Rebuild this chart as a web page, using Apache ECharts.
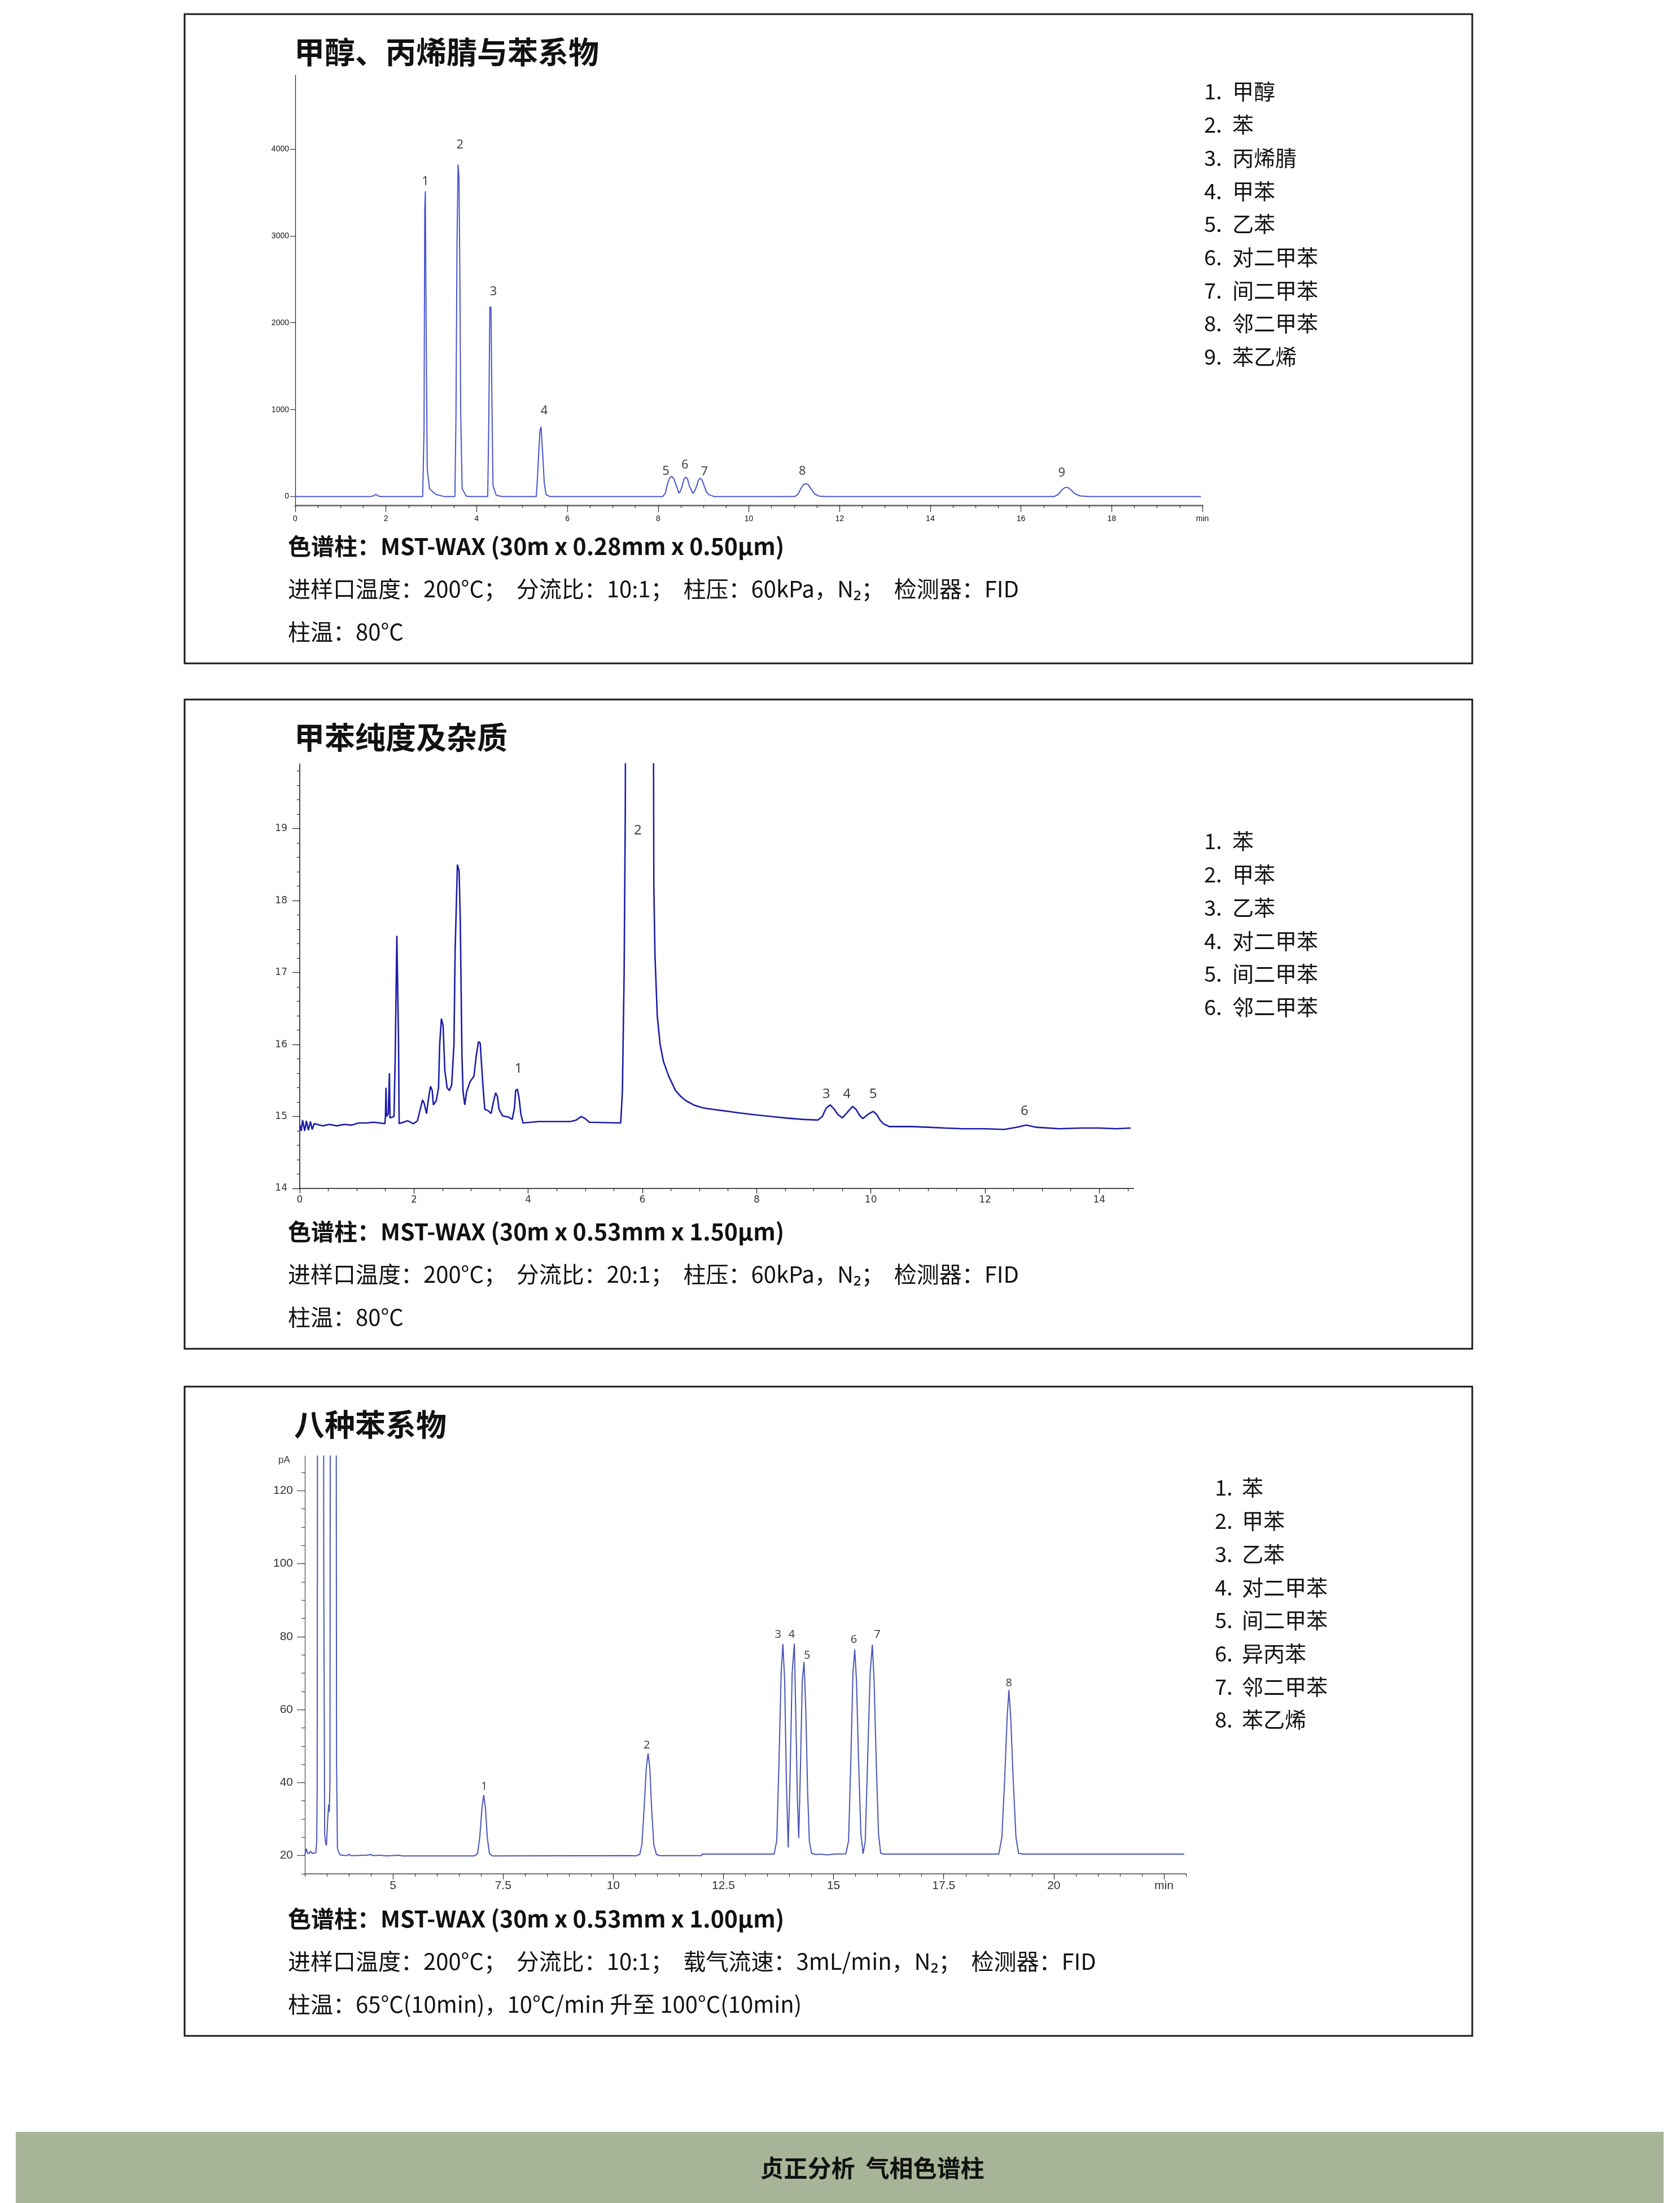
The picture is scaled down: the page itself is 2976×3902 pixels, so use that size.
<!DOCTYPE html>
<html><head><meta charset="utf-8">
<script src="https://cdn.jsdelivr.net/npm/echarts@6/dist/echarts.min.js"></script>
<style>html,body{margin:0;padding:0;background:#fff}#c{width:2976px;height:3902px}</style>
</head><body><div id="c"></div>
<script>
// ---------- Panel 1: 甲醇、丙烯腈与苯系物 ----------
const title1 = '甲醇、丙烯腈与苯系物';
const legend1 = ['甲醇','苯','丙烯腈','甲苯','乙苯','对二甲苯','间二甲苯','邻二甲苯','苯乙烯'];
const info1 = ['色谱柱：MST-WAX (30m x 0.28mm x 0.50μm)','进样口温度：200°C；  分流比：10:1；  柱压：60kPa，N₂；  检测器：FID','柱温：80°C'];
const xTicks1 = [0,2,4,6,8,10,12,14,16,18,20];
const yTicks1 = [0,1000,2000,3000,4000];
const trace1 = [
 [0,0],[1.65,0],[1.72,8],[1.78,25],[1.84,5],[1.9,0],
 [2.81,0],[2.84,786],[2.855,3308],[2.868,3515],[2.887,1881],[2.91,322],[2.96,90],[3.10,25],[3.29,0],
 [3.52,0],[3.543,886],[3.567,2943],[3.59,3822],[3.61,3672],[3.63,2512],[3.648,952],[3.68,90],[3.77,5],[3.85,0],
 [4.243,0],[4.267,852],[4.29,2180],[4.315,2180],[4.334,1185],[4.36,123],[4.43,15],[4.57,0],
 [5.315,0],[5.348,289],[5.376,587],[5.395,753],[5.42,803],[5.436,654],[5.46,455],[5.49,156],[5.53,23],[5.62,0],
 [8.10,0],[8.16,40],[8.205,143],[8.25,210],[8.30,234],[8.35,205],[8.39,143],[8.46,39],[8.50,70],[8.53,122],[8.57,200],[8.61,226],[8.65,200],[8.69,122],[8.77,35],[8.81,70],[8.85,122],[8.89,190],[8.93,213],[8.97,190],[9.01,132],[9.06,60],[9.11,24],[9.24,0],
 [11.01,0],[11.08,25],[11.15,95],[11.21,140],[11.26,148],[11.31,138],[11.37,90],[11.45,30],[11.55,6],[11.68,0],
 [16.73,0],[16.82,25],[16.90,75],[16.96,102],[17.0,107],[17.05,100],[17.12,68],[17.20,30],[17.30,9],[17.48,0],
 [19.97,0]
];
const peakNames1 = ['1','2','3','4','5','6','7','8','9'];
const peakLabelPos1 = [[2.87,3623],[3.63,4044],[4.37,2359],[5.49,986],[8.17,290],[8.59,360],[9.02,284],[11.18,290],[16.9,273]];

// ---------- Panel 2: 甲苯纯度及杂质 ----------
const title2 = '甲苯纯度及杂质';
const legend2 = ['苯','甲苯','乙苯','对二甲苯','间二甲苯','邻二甲苯'];
const info2 = ['色谱柱：MST-WAX (30m x 0.53mm x 1.50μm)','进样口温度：200°C；  分流比：20:1；  柱压：60kPa，N₂；  检测器：FID','柱温：80°C'];
const xTicks2 = [0,2,4,6,8,10,12,14];
const yTicks2 = [14,15,16,17,18,19];
const trace2 = [
 [0,14.88],[0.025,14.80],[0.05,14.95],[0.086,14.80],[0.116,14.94],[0.151,14.81],[0.187,14.93],[0.217,14.82],[0.252,14.90],
 [0.40,14.87],[0.52,14.89],[0.65,14.87],[0.78,14.89],[0.91,14.88],[1.03,14.91],[1.16,14.91],[1.30,14.92],[1.49,14.90],
 [1.50,15.00],[1.51,15.40],[1.52,15.00],[1.55,15.04],[1.57,15.60],[1.58,14.98],[1.65,15.00],[1.67,15.76],[1.70,17.51],[1.71,17.04],[1.73,16.00],[1.74,14.90],
 [1.81,14.92],[1.89,14.94],[1.99,14.90],[2.06,14.94],
 [2.11,15.10],[2.15,15.23],[2.18,15.18],[2.22,15.04],[2.26,15.28],[2.29,15.42],[2.32,15.36],[2.34,15.16],[2.39,15.22],[2.43,15.40],[2.45,16.00],[2.48,16.36],[2.51,16.26],[2.54,15.64],[2.58,15.40],[2.62,15.36],[2.66,15.44],[2.70,16.00],[2.72,17.28],[2.76,18.50],[2.79,18.41],[2.81,17.76],[2.84,15.84],[2.86,15.34],[2.89,15.16],[2.92,15.34],[2.98,15.48],[3.05,15.56],[3.09,15.84],[3.13,16.04],[3.16,16.02],[3.18,15.76],[3.21,15.40],[3.24,15.10],[3.30,15.08],[3.35,15.04],[3.39,15.20],[3.43,15.33],[3.46,15.28],[3.49,15.10],[3.55,15.01],[3.66,14.99],[3.72,14.96],[3.76,15.12],[3.78,15.36],[3.81,15.38],[3.84,15.26],[3.87,15.04],[3.91,14.91],
 [4.18,14.93],[4.44,14.93],[4.74,14.93],[4.84,14.95],[4.93,15.00],[5.00,14.97],[5.07,14.92],[5.62,14.91],
 [5.65,15.36],[5.68,17.00],[5.70,19.20],[5.72,25],[5.95,40],[6.18,25],
 [6.20,18.2],[6.22,17.24],[6.26,16.40],[6.31,16.0],[6.37,15.76],[6.46,15.56],[6.58,15.36],[6.67,15.28],[6.76,15.22],[6.90,15.16],[7.06,15.12],[7.22,15.10],[7.42,15.08],[7.70,15.05],[8.01,15.02],[8.25,15.00],[8.50,14.98],[8.80,14.96],[9.07,14.95],
 [9.15,15.0],[9.22,15.12],[9.29,15.16],[9.36,15.10],[9.42,15.03],[9.50,14.98],[9.58,15.05],[9.68,15.14],[9.74,15.10],[9.80,15.02],[9.86,14.97],[9.95,15.03],[10.04,15.07],[10.10,15.03],[10.16,14.95],[10.22,14.90],[10.32,14.86],
 [10.70,14.86],[11.01,14.85],[11.30,14.84],[11.61,14.83],[12.00,14.83],[12.33,14.82],[12.55,14.85],[12.72,14.88],[12.9,14.85],[13.3,14.83],[13.7,14.84],[14.0,14.84],[14.3,14.83],[14.55,14.84]
];
const peakNames2 = ['1','2','3','4','5','6'];
const peakLabelPos2 = [[3.83,15.66],[5.92,18.97],[9.22,15.31],[9.58,15.31],[10.04,15.31],[12.69,15.07]];

// ---------- Panel 3: 八种苯系物 ----------
const title3 = '八种苯系物';
const legend3 = ['苯','甲苯','乙苯','对二甲苯','间二甲苯','异丙苯','邻二甲苯','苯乙烯'];
const info3 = ['色谱柱：MST-WAX (30m x 0.53mm x 1.00μm)','进样口温度：200°C；  分流比：10:1；  载气流速：3mL/min，N₂；  检测器：FID','柱温：65°C(10min)，10°C/min 升至 100°C(10min)'];
const xTicks3 = [5,7.5,10,12.5,15,17.5,20,22.5];
const yTicks3 = [20,40,60,80,100,120];
const trace3 = [
 [3.0,20.2],[3.03,21.9],[3.06,20.7],[3.1,20.6],[3.13,21.2],[3.17,20.6],[3.25,20.8],[3.27,24],[3.28,39],[3.30,300],[3.41,300],[3.43,95],[3.45,26],[3.47,23.5],[3.49,22.8],[3.52,30],[3.54,34],[3.555,32],[3.57,40],[3.59,300],[3.70,300],[3.72,45],[3.74,22],[3.77,20.9],[3.8,20.2],
 [3.95,20.0],[4.0,20.3],[4.05,20.0],[4.4,20.1],[4.5,20.3],[4.55,20.0],[4.7,20.1],[4.85,19.9],[5.15,20.1],[5.2,19.9],
 [6.85,19.9],[6.92,20.6],[6.97,25],[7.02,33],[7.06,36.6],[7.1,33],[7.14,25],[7.19,20.6],[7.25,19.9],
 [10.4,20.0],[10.5,19.9],[10.6,20.3],[10.65,23],[10.7,33],[10.75,44],[10.79,48.0],[10.83,44],[10.87,33],[10.92,23],[10.98,20.3],[11.05,20.0],[12.0,20.0],[12.02,20.4],
 [13.65,20.4],[13.71,24],[13.76,45],[13.81,70],[13.85,78.0],[13.89,68],[13.93,40],[13.97,22.2],[14.01,40],[14.06,70],[14.11,78.1],[14.14,60],[14.18,35],[14.21,24.8],[14.25,45],[14.29,68],[14.33,73.1],[14.37,60],[14.41,38],[14.45,24],[14.5,20.6],[14.6,20.3],[14.7,20.4],[14.85,20.2],[15.0,20.4],[15.28,20.5],
 [15.34,24],[15.39,45],[15.44,70],[15.48,76.5],[15.52,68],[15.57,45],[15.62,26],[15.67,20.5],[15.72,24],[15.77,45],[15.83,70],[15.88,77.8],[15.92,68],[15.97,45],[16.02,26],[16.07,20.6],[16.15,20.4],
 [18.75,20.4],[18.82,25],[18.88,40],[18.94,58],[18.98,65.4],[19.02,58],[19.08,40],[19.14,25],[19.2,20.6],[19.3,20.4],[22.96,20.4]
];
const peakNames3 = ['1','2','3','4','5','6','7','8'];
const peakLabelPos3 = [[7.07,38.9],[10.76,50.2],[13.74,80.6],[14.05,80.6],[14.40,74.9],[15.46,79.1],[15.99,80.6],[18.98,67.3]];

const footerText = '贞正分析  气相色谱柱';

// ---------- layout ----------
const CJK = '"Noto Sans CJK SC","Noto Sans",sans-serif';
const panelTops = [25, 1239, 2456];
const legendTops = [162, 251 + 1239, 179 + 2456];
const legendNumX = [2133, 2133, 2152];
const legendNameX = [2183, 2183, 2200];
const titles = [title1, title2, title3];
const legends = [legend1, legend2, legend3];
const infos = [info1, info2, info3];

function steps(a, b, s) { const r = []; for (let v = a; v <= b + 1e-9; v += s) r.push(Math.round(v * 1000) / 1000); return r; }
function txt(x, y, text, font, align) {
  return { type: 'text', x, y, style: { text, font, fill: '#111', align: align || 'left', verticalAlign: 'middle', textAlign: align || 'left', textVerticalAlign: 'middle' } };
}

const graphics = [];
panelTops.forEach((top, p) => {
  graphics.push({ type: 'rect', shape: { x: 327, y: top, width: 2281, height: 1150 }, style: { fill: 'none', stroke: '#1a1a1a', lineWidth: 3 } });
  graphics.push(txt(521, top + 67, titles[p], 'bold 54px ' + CJK));
  const ly = [942, 1018, 1094];
  infos[p].forEach((t, i) => {
    graphics.push(txt(510, top + ly[i], t, (i === 0 ? 'bold 41px ' : '40px ') + CJK));
  });
  legends[p].forEach((name, i) => {
    const y = legendTops[p] + i * 58.7;
    graphics.push(txt(legendNumX[p], y, (i + 1) + '.', '38px ' + CJK));
    graphics.push(txt(legendNameX[p], y, name, '38px ' + CJK));
  });
});
graphics.push({ type: 'text', x: 493, y: 2586, style: { text: 'pA', font: '17px "Liberation Sans",sans-serif', fill: '#333', align: 'left', verticalAlign: 'middle', textAlign: 'left', textVerticalAlign: 'middle' } });
graphics.push({ type: 'rect', shape: { x: 28, y: 3776, width: 2919, height: 130 }, style: { fill: '#a7b497' } });
graphics.push(txt(1545, 3840, footerText, 'bold 42px ' + CJK, 'center'));

const grids = [
  { left: 523, top: 133, width: 1607, height: 762, containLabel: false, outerBoundsMode: 'none' },
  { left: 531, top: 1353, width: 1477, height: 752, containLabel: false, outerBoundsMode: 'none' },
  { left: 540, top: 2579, width: 1561, height: 740, containLabel: false, outerBoundsMode: 'none' }
];

function xPair(g, min, max, majors, minors, o) {
  return [
    { type: 'value', gridIndex: g, min, max, position: 'bottom',
      axisLine: { show: true, onZero: false, lineStyle: { color: o.lineColor, width: o.lineWidth } },
      axisTick: { show: true, inside: false, customValues: majors, length: o.majorLen, lineStyle: { color: o.tickColor, width: 1.2 } },
      axisLabel: { show: true, customValues: majors, margin: o.margin, fontSize: o.fontSize, fontFamily: o.font, color: o.labelColor, formatter: o.formatter },
      splitLine: { show: false } },
    { type: 'value', gridIndex: g, min, max, position: 'bottom',
      axisLine: { show: false, onZero: false },
      axisTick: { show: true, inside: false, customValues: minors, length: o.minorLen, lineStyle: { color: o.tickColor, width: 1.2 } },
      axisLabel: { show: false }, splitLine: { show: false } }
  ];
}
function yPair(g, min, max, majors, minors, o) {
  return [
    { type: 'value', gridIndex: g, min, max, position: 'left',
      axisLine: { show: true, onZero: false, lineStyle: { color: o.lineColor, width: o.lineWidth } },
      axisTick: { show: true, inside: false, customValues: majors, length: o.majorLen, lineStyle: { color: o.tickColor, width: 1.2 } },
      axisLabel: { show: true, customValues: majors, margin: o.margin, fontSize: o.fontSize, fontFamily: o.font, color: o.labelColor, formatter: v => String(v) },
      splitLine: { show: false } },
    { type: 'value', gridIndex: g, min, max, position: 'left',
      axisLine: { show: false, onZero: false },
      axisTick: { show: minors.length > 0, inside: false, customValues: minors, length: o.minorLen, lineStyle: { color: o.tickColor, width: 1.2 } },
      axisLabel: { show: false }, splitLine: { show: false } }
  ];
}

const xAxes = [].concat(
  xPair(0, 0, 20, xTicks1, steps(0, 20, 0.5), { lineColor: '#777', lineWidth: 3, tickColor: '#333', majorLen: 12, minorLen: 5, margin: 17, fontSize: 14, font: '"Liberation Sans Narrow","Liberation Sans",sans-serif', labelColor: '#111', formatter: v => v === 20 ? 'min' : String(v) }),
  xPair(1, 0, 14.6, xTicks2, steps(0, 14.5, 0.5), { lineColor: '#111', lineWidth: 1.5, tickColor: '#222', majorLen: 9, minorLen: 5, margin: 12, fontSize: 17, font: '"DejaVu Sans",sans-serif', labelColor: '#333', formatter: v => String(v) }),
  xPair(2, 3, 23, xTicks3, steps(3, 23, 0.5), { lineColor: '#444', lineWidth: 1.5, tickColor: '#333', majorLen: 10, minorLen: 5, margin: 11, fontSize: 21, font: '"Liberation Sans",sans-serif', labelColor: '#333', formatter: v => v === 22.5 ? 'min' : String(v) })
);
const yAxes = [].concat(
  yPair(0, -100, 4850, yTicks1, [], { lineColor: '#222', lineWidth: 1.2, tickColor: '#333', majorLen: 9, minorLen: 4, margin: 11, fontSize: 14, font: '"Liberation Sans Narrow","Liberation Sans",sans-serif', labelColor: '#111' }),
  yPair(1, 14, 19.9, yTicks2, steps(14, 19.8, 0.2), { lineColor: '#111', lineWidth: 1.5, tickColor: '#222', majorLen: 13, minorLen: 5, margin: 22, fontSize: 17, font: '"DejaVu Sans",sans-serif', labelColor: '#333' }),
  yPair(2, 15, 129.5, yTicks3, steps(15, 125, 5), { lineColor: '#555', lineWidth: 1.3, tickColor: '#444', majorLen: 14, minorLen: 6, margin: 21, fontSize: 21, font: '"Liberation Sans",sans-serif', labelColor: '#333' })
);

function traceSeries(i, data, color, width) {
  return { type: 'line', xAxisIndex: i * 2, yAxisIndex: i * 2, data, showSymbol: false, symbol: 'none', smooth: false, clip: true, animation: false, silent: true,
    lineStyle: { color, width } };
}
function labelSeries(i, names, pos, fontSize) {
  return { type: 'scatter', xAxisIndex: i * 2, yAxisIndex: i * 2, symbolSize: 1, itemStyle: { color: 'rgba(0,0,0,0)' }, clip: false, silent: true, animation: false,
    data: names.map((n, k) => ({ name: n, value: pos[k] })),
    label: { show: true, position: 'inside', formatter: '{b}', fontSize, fontFamily: '"Noto Sans","DejaVu Sans",sans-serif', color: '#111' } };
}

const chart = echarts.init(document.getElementById('c'), null, { renderer: 'canvas' });
chart.setOption({
  backgroundColor: '#ffffff',
  animation: false,
  grid: grids,
  xAxis: xAxes,
  yAxis: yAxes,
  graphic: { elements: graphics },
  series: [
    traceSeries(0, trace1, '#4a55cc', 2),
    labelSeries(0, peakNames1, peakLabelPos1, 22),
    traceSeries(1, trace2, '#1c1ca8', 2.6),
    labelSeries(1, peakNames2, peakLabelPos2, 24),
    traceSeries(2, trace3, '#4b55b8', 2),
    labelSeries(2, peakNames3, peakLabelPos3, 20)
  ]
});
</script></body></html>
